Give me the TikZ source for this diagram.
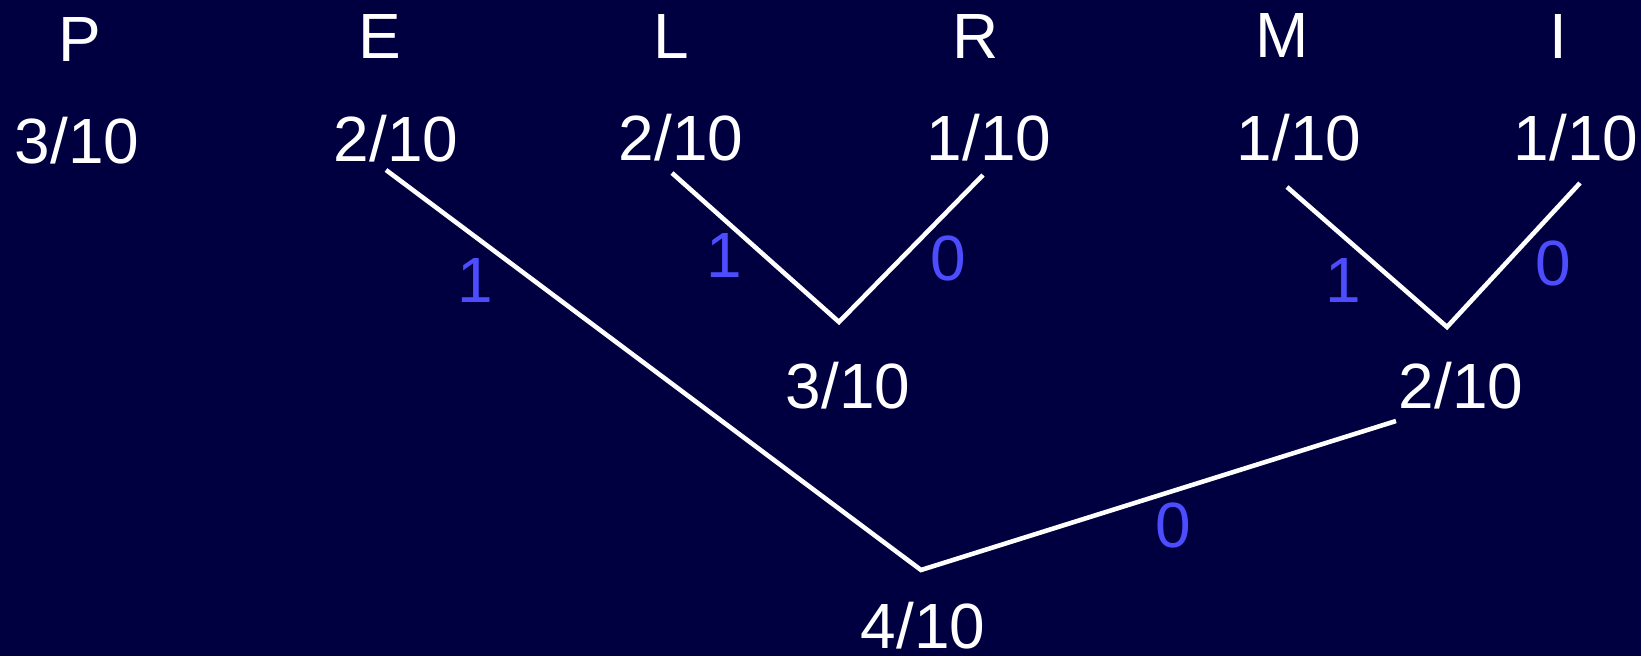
\documentclass[tikz,border=0pt]{standalone}
\usepackage{fontspec}
\setmainfont{Liberation Sans}
\usetikzlibrary{positioning}
\definecolor{HuffNavy}{HTML}{000040}
\definecolor{HuffBlue}{HTML}{4D4DFF}
\begin{document}
\begin{tikzpicture}[x=0.02cm,y=-0.02cm,
    sym/.style={text=white,inner sep=0pt,anchor=base,font=\fontsize{36.4}{40}\selectfont},
    prob/.style={sym},
    bit/.style={sym,text=HuffBlue},
    branch/.style={draw=white,line width=2.6pt,line join=miter}]
  \fill[HuffNavy] (0,0) rectangle (1641,656);
  \useasboundingbox (0,0) rectangle (1641,656);
  % symbols
  \node[sym] (symP) at (80,61) {P};
  \node[sym] (symE) at (380,58) {E};
  \node[sym] (symL) at (671,58) {L};
  \node[sym] (symR) at (976,58) {R};
  \node[sym] (symM) at (1282,57) {M};
  \node[sym] (symI) at (1558,58) {I};
  % leaf probabilities
  \node[prob] (probP) at (77,163) {3/10};
  \node[prob] (probE) at (396,161) {2/10};
  \node[prob] (probL) at (681,160) {2/10};
  \node[prob] (probR) at (989,160) {1/10};
  \node[prob] (probM) at (1299,160) {1/10};
  \node[prob] (probI) at (1576,160) {1/10};
  % merged probabilities
  \node[prob] (probLR) at (848,408) {3/10};
  \node[prob] (probMI) at (1461,408) {2/10};
  \node[prob] (probRoot) at (923,648) {4/10};
  % branch ends and joints
  \coordinate (tE) at (386,170);
  \coordinate (tL) at (672,173);
  \coordinate (tR) at (983,175);
  \coordinate (tM) at (1287,187);
  \coordinate (tI) at (1580,183);
  \coordinate (tMI) at (1396,421);
  \coordinate (jLR) at (839,322);
  \coordinate (jMI) at (1447,327);
  \coordinate (jRoot) at (921,570);
  \draw[branch] (tL) -- (jLR) -- (tR);
  \draw[branch] (tM) -- (jMI) -- (tI);
  \draw[branch] (tE) -- (jRoot) -- (tMI);
  % code bits
  \node[bit] (bitE) at (475,302) {1};
  \node[bit] (bitL) at (724,277) {1};
  \node[bit] (bitR) at (948,280) {0};
  \node[bit] (bitM) at (1343,302) {1};
  \node[bit] (bitI) at (1553,285) {0};
  \node[bit] (bitMI) at (1173,547) {0};
\end{tikzpicture}
\end{document}
